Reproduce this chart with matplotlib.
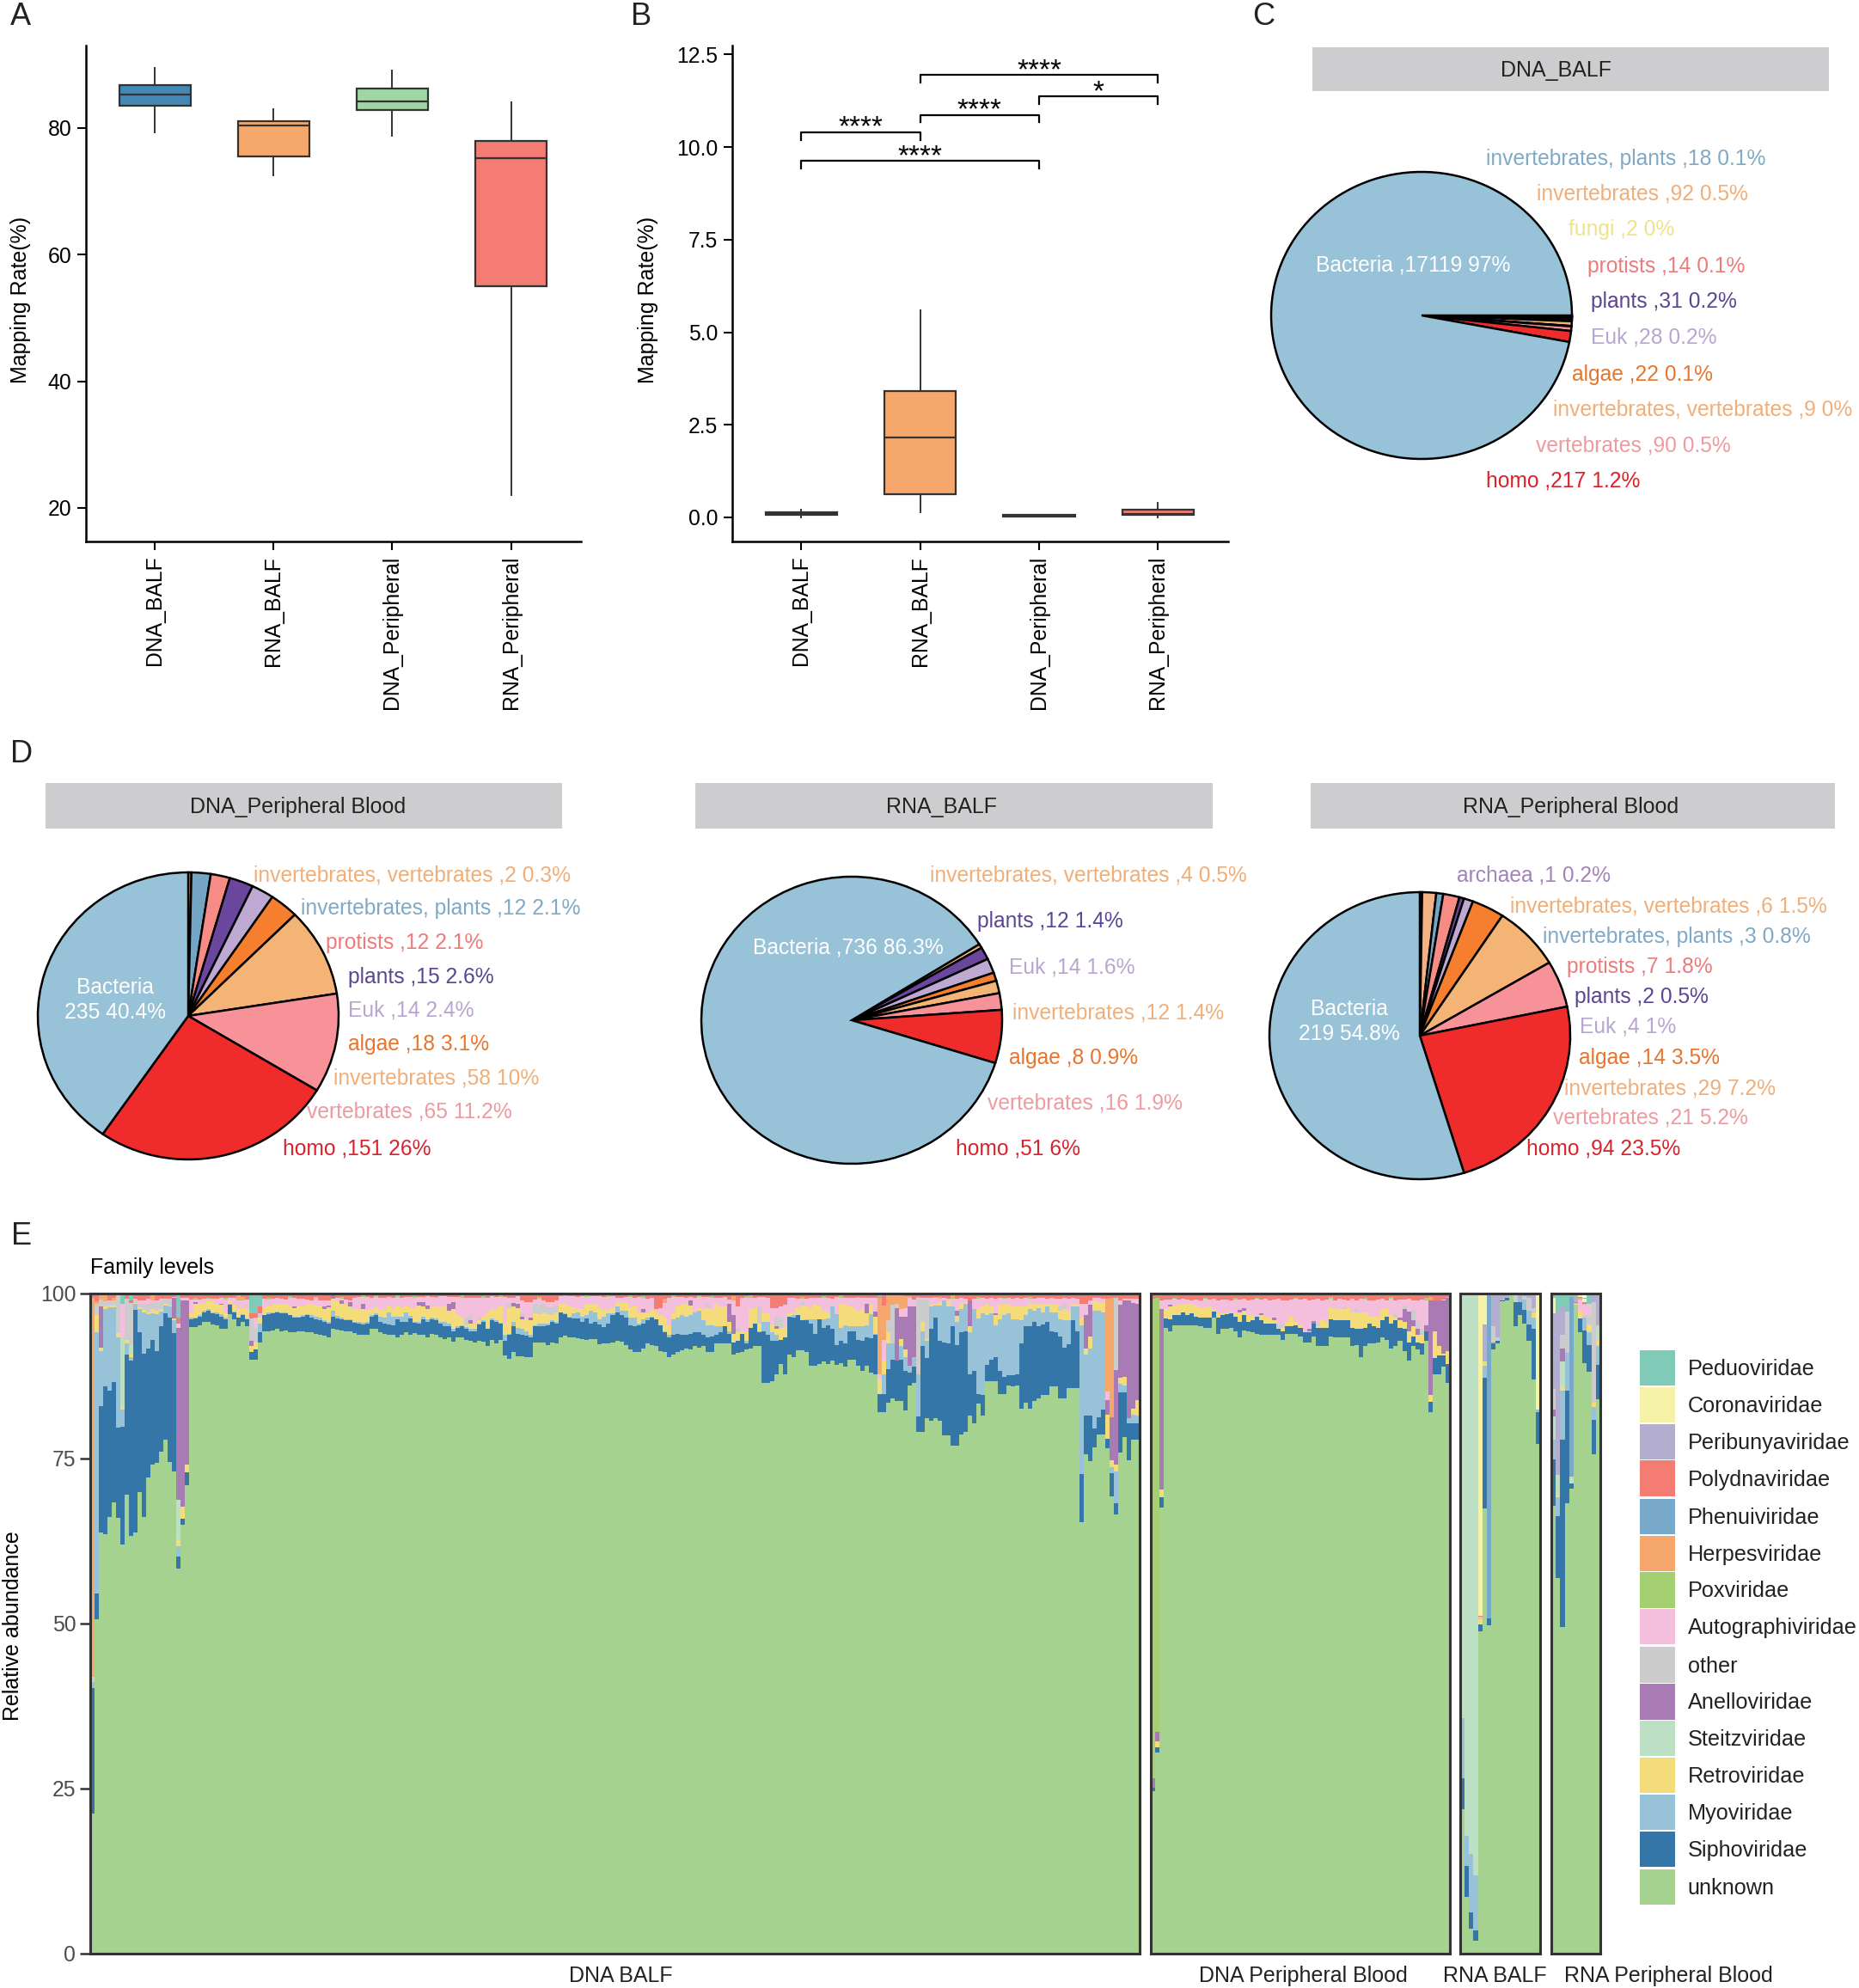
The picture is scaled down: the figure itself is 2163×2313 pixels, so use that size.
# virome overview figure, panels A-E
import matplotlib
matplotlib.use("Agg")
import matplotlib.pyplot as plt
import numpy as np

plt.rcParams['font.family'] = ['Liberation Sans', 'DejaVu Sans']

W, H = 2163, 2313
OV = 2163 / 1465.0  # label positions below were read on a 1465 wide view

# ---- panels A, B
sample_names = ['DNA_BALF', 'RNA_BALF', 'DNA_Peripheral', 'RNA_Peripheral']
box_colors = ['#4488B6', '#F5A76C', '#A0D6A5', '#F47C73']
a_whislo = [79.3, 72.5, 78.7, 22.0]
a_q1 = [83.5, 75.5, 82.8, 55.0]
a_med = [85.3, 80.4, 84.2, 75.2]
a_q3 = [86.7, 81.0, 86.2, 78.0]
a_whishi = [89.5, 83.0, 89.0, 84.0]
b_whislo = [0.0, 0.15, 0.02, 0.0]
b_q1 = [0.06, 0.62, 0.03, 0.07]
b_med = [0.10, 2.15, 0.05, 0.10]
b_q3 = [0.13, 3.40, 0.07, 0.20]
b_whishi = [0.20, 5.60, 0.08, 0.40]
# (first group, second group, height, stars)
b_brackets = [(0, 1, 10.39, '****'), (0, 2, 9.62, '****'), (1, 2, 10.87, '****'),
              (1, 3, 11.94, '****'), (2, 3, 11.36, '*')]

# ---- pies
pie_colors = {'Bacteria': '#97C2D8', 'homo': '#EF2B2B', 'vertebrates': '#F69298',
              'invertebrates, vertebrates': '#F4B183', 'invertebrates': '#F4B476',
              'algae': '#F57F2E', 'Euk': '#BEA9D2', 'plants': '#6A479C', 'protists': '#F68C85',
              'fungi': '#F5E88A', 'invertebrates, plants': '#74A5C4', 'archaea': '#A77DB8'}
text_colors = {'Bacteria': 'white', 'homo': '#D7232B', 'vertebrates': '#EE9AA0',
               'invertebrates, vertebrates': '#F0AE78', 'invertebrates': '#F0AE78',
               'algae': '#E6752E', 'Euk': '#B7A6CF', 'plants': '#5B4594', 'protists': '#EC7B7B',
               'fungi': '#EFE28A', 'invertebrates, plants': '#7FA9C4', 'archaea': '#A284B8'}

c_names = ['invertebrates, plants', 'fungi', 'protists', 'plants', 'Euk', 'algae', 'invertebrates',
           'invertebrates, vertebrates', 'vertebrates', 'homo', 'Bacteria']
c_counts = [18, 2, 14, 31, 28, 22, 92, 9, 90, 217, 17119]
c_pct = ['0.1%', '0%', '0.1%', '0.2%', '0.2%', '0.1%', '0.5%', '0%', '0.5%', '1.2%', '97%']
d1_names = ['invertebrates, vertebrates', 'invertebrates, plants', 'protists', 'plants', 'Euk', 'algae',
            'invertebrates', 'vertebrates', 'homo', 'Bacteria']
d1_counts = [2, 12, 12, 15, 14, 18, 58, 65, 151, 235]
d1_pct = ['0.3%', '2.1%', '2.1%', '2.6%', '2.4%', '3.1%', '10%', '11.2%', '26%', '40.4%']
d2_names = ['invertebrates, vertebrates', 'plants', 'Euk', 'algae', 'invertebrates', 'vertebrates', 'homo', 'Bacteria']
d2_counts = [4, 12, 14, 8, 12, 16, 51, 736]
d2_pct = ['0.5%', '1.4%', '1.6%', '0.9%', '1.4%', '1.9%', '6%', '86.3%']
d3_names = ['archaea', 'invertebrates, vertebrates', 'invertebrates, plants', 'protists', 'plants', 'Euk', 'algae',
            'invertebrates', 'vertebrates', 'homo', 'Bacteria']
d3_counts = [1, 6, 3, 7, 2, 4, 14, 29, 21, 94, 219]
d3_pct = ['0.2%', '1.5%', '0.8%', '1.8%', '0.5%', '1%', '3.5%', '7.2%', '5.2%', '23.5%', '54.8%']

# ---- panel E, cumulative tops per sample (percent)
bal_unknown_top = [
    21.2,50.7,63.8,63.6,66.2,68.4,66.0,62.0,69.5,63.3,63.8,69.9,66.2,72.2,74.1,74.3,76.0,77.8,74.5,73.0,58.3,65.0,70.9,
    94.9,94.9,95.2,95.7,95.7,95.3,95.2,94.7,94.7,96.9, 96.1,95.0,95.7,95.0,90.0,90.0,92.6,94.3,94.3,94.4,
    94.6,94.3,94.4,94.1,94.1,94.3,94.3,94.1,94.1,93.9, 93.7,93.6,93.4,94.6,94.5,94.4,94.3,94.3,
    94.0,93.8,93.7,93.8,94.7,94.7,94.1,93.9,93.7,93.7,93.4,93.8,94.1,93.7,94.0,93.7,93.7,93.4,93.9,93.8,
    93.3,93.1,93.3,92.7,93.3,93.3,93.0,92.8,92.6,92.8,92.7,92.0,93.0,92.4,93.0,90.6,90.1,91.1,90.5,90.5,
    90.3,90.3,92.6,92.6,92.6,92.2,92.6,92.4,93.4,93.6,93.4,93.3,93.2,93.1,93.0,93.1,93.1,92.3,92.4,92.5,92.6,
    92.8,92.7,92.2,91.5,91.2,91.2,91.7,92.4,92.2,92.0,91.3,91.1,90.3,90.8,91.1,91.4,91.7,91.5,92.0,91.8,
    92.0,91.2,91.1,92.4,92.4,92.4,92.4,90.7,91.0,91.1,91.5,91.7,92.0,92.0,86.5,86.5,86.7,87.8,89.3,87.8,
    90.7,90.4,91.4,91.4,91.1,89.0,89.0,89.3,89.7,89.3,89.8,89.2,89.5,88.9,90.0,90.0,89.1,88.3,89.1,88.0,87.8,
    82.0,82.0,83.5,84.1,83.7,83.7,82.3,86.1,86.5,79.0,79.0,81.1,80.7,81.1,80.7,78.5,78.5,76.9,77.0,78.7,
    79.1,81.5,80.4,83.3,81.5,86.7,86.7,86.7,84.8,84.8,86.1,85.9,86.1,82.6,83.5,82.6,83.7,84.1,84.6,84.6,
    85.9,85.9,84.1,84.1,85.7,85.7,85.7,65.4,75.7,74.6,76.7,78.7,78.7,76.5,69.3,66.6,75.9,78.3,74.8,77.8,77.8]
bal_sipho_top = [
    40.2,54.6,83.0,86.0,85.3,86.6,79.7,79.8,90.8,89.9,97.5,94.1,90.9,91.7,93.0,91.3,95.0,97.0,96.4,94.0,60.1,65.9,72.9,
    96.1,96.2,96.5,97.2,97.4,97.0,96.9,96.5,96.1,98.3, 97.2,96.3,96.7,96.1,91.1,91.5,94.1,96.7,96.9,97.0,
    97.2,97.0,97.0,96.7,96.3,96.4,96.5,96.7,96.3,96.1, 95.9,95.7,95.4,96.5,96.2,96.1,95.9,95.9,
    95.6,95.4,95.3,95.4,96.5,96.7,95.7,95.4,95.3,95.2,96.1,95.7,95.7,96.2,95.6,95.4,96.1,95.7,96.1,96.0,
    95.4,95.1,95.1,94.3,94.8,95.0,94.7,94.3,94.3,95.3,95.7,94.6,96.0,95.7,95.4,92.9,93.7,95.0,93.9,93.7,
    93.6,93.4,95.0,95.1,95.1,95.2,95.7,95.4,97.2,96.9,96.3,96.2,96.2,95.7,96.2,95.4,95.7,95.3,94.9,95.4,96.7,
    97.2,96.7,96.3,95.2,95.0,95.2,95.4,95.9,96.3,96.1,95.2,94.1,93.3,93.7,93.9,93.7,93.7,93.9,94.1,94.1,
    93.8,93.3,93.5,93.7,94.1,95.0,93.9,92.6,92.8,93.9,92.4,94.8,95.4,94.1,94.3,93.7,92.8,92.9,93.0,93.3,
    96.5,96.3,96.7,96.0,96.0,95.4,93.9,96.1,94.8,95.2,94.7,92.2,92.8,92.4,94.3,94.3,93.0,92.9,93.3,93.2,93.7,
    84.8,84.8,88.5,90.0,89.8,90.0,88.3,88.0,88.9,81.4,92.0,90.2,94.6,96.4,92.8,92.6,92.5,95.1,92.2,94.1,
    94.3,87.8,88.3,84.8,84.6,89.2,90.0,90.4,88.3,87.4,87.6,87.6,87.8,92.4,95.1,95.0,95.7,95.0,95.3,95.7,
    94.3,94.1,93.5,91.8,92.3,95.9,94.3,72.6,81.5,81.5,79.6,81.3,82.4,78.0,72.8,68.2,85.0,85.0,80.4,80.4,80.4]
bal_myo_top = [
    41.2,94.1,91.3,97.6,97.9,97.9,93.4,82.4,92.4,90.4,98.4,97.6,97.2,96.9,97.0,96.9,97.3,98.2,98.0,95.9,61.7,65.9,72.9,
    96.3,96.4,96.7,97.4,97.6,97.2,97.1,96.9,96.3,98.4, 97.3,96.4,96.9,96.2,91.1,91.5,95.4,96.8,97.1,97.2,
    97.3,97.2,97.2,96.8,96.5,96.5,96.7,96.9,96.7,96.5, 96.3,95.9,95.7,97.4,96.6,96.3,96.1,96.1,
    95.7,95.7,95.6,95.7,96.7,97.0,96.5,96.3,97.2,96.5,96.5,96.5,97.2,96.6,95.7,95.7,96.5,96.1,96.3,96.2,
    95.7,95.7,95.4,94.6,95.0,95.2,94.9,94.6,94.6,95.4,95.9,94.6,96.2,95.9,95.6,93.7,93.9,95.7,94.8,94.6,
    94.3,93.7,95.2,95.4,95.4,95.4,95.9,95.7,97.2,97.0,96.5,97.0,97.2,96.5,96.7,97.4,97.2,96.1,96.5,97.0,97.0,
    98.0,97.4,97.4,96.3,96.3,95.4,96.1,96.3,96.5,96.1,95.2,94.3,93.7,96.1,96.3,96.7,96.5,96.7,97.2,97.4,
    95.9,95.2,95.2,95.0,95.0,95.0,94.3,92.6,92.8,93.9,92.8,94.8,95.4,94.3,95.7,95.7,94.1,93.7,93.0,93.3,
    96.5,96.7,96.7,96.0,96.1,96.1,96.1,96.1,96.1,96.2,98.0,96.9,94.8,95.2,95.0,95.0,95.0,95.0,95.2,96.9,93.9,
    84.8,87.8,92.4,92.4,89.8,92.0,90.4,89.1,90.4,87.8,94.3,92.8,98.0,98.2,98.2,98.9,98.0,98.0,95.7,97.6,
    98.5,94.1,97.6,96.2,97.0,96.7,97.0,95.2,96.1,96.7,97.0,96.1,96.1,95.9,96.7,97.6,97.4,97.8,97.2,98.0,
    97.2,97.2,96.1,95.9,95.9,98.0,98.0,95.2,90.7,91.7,97.4,97.4,97.2,78.0,73.7,73.0,86.3,86.1,81.1,81.7,81.5]
bal_retro_top = [
    41.2,96.7,91.8,98.0,98.2,98.2,94.0,82.7,93.0,90.8,98.6,97.9,97.5,97.2,97.6,97.4,97.7,98.4,98.2,96.2,62.8,67.7,74.1,
    97.2,98.5,98.5,98.6,98.8,98.8,98.5,98.3,97.2,98.9, 98.3,97.6,97.8,97.6,92.0,92.6,96.3,97.8,98.0,98.3,
    98.5,98.5,98.5,98.2,97.8,98.0,98.0,98.5,98.5,98.2, 98.2,97.7,97.9,99.2,98.8,98.5,98.3,97.9,
    97.7,97.7,97.6,97.4,97.7,97.9,97.6,97.5,98.0,97.7,98.0,97.8,98.0,97.9,97.8,98.2,98.0,97.6,97.9,98.0,
    97.9,98.0,97.4,97.6,96.7,96.3,95.2,95.4,95.4,95.9,96.5,97.2,97.6,97.7,98.0,95.4,97.8,98.0,97.8,96.1,
    96.1,95.9,97.0,96.9,97.2,96.9,96.7,97.2,98.5,98.5,98.2,97.9,97.7,97.6,98.3,98.5,98.5,97.8,97.5,97.4,97.8,
    98.7,98.6,98.7,97.9,98.0,97.0,97.2,97.0,97.6,97.4,96.7,96.3,95.2,97.2,98.0,98.3,98.3,98.2,97.2,97.8,
    97.6,97.8,97.7,98.3,97.9,98.0,95.7,93.9,94.1,94.3,94.1,97.6,97.8,95.4,97.0,97.0,95.2,94.6,94.8,95.0,
    97.2,97.1,97.8,98.2,98.0,97.8,98.3,98.0,97.4,97.2,98.0,96.0,98.3,98.3,98.0,97.8,97.4,97.6,97.0,98.3,96.5,
    87.0,89.8,94.1,92.4,89.8,93.1,91.5,89.1,90.4,87.8,95.7,93.1,98.3,98.5,98.7,98.9,98.9,98.0,96.6,98.5,
    98.6,95.0,97.6,97.6,98.0,98.3,98.0,96.7,98.3,98.5,98.5,98.0,98.0,98.0,98.0,98.5,98.5,98.5,98.5,98.5,
    98.3,98.3,97.4,97.6,97.4,98.5,98.5,96.3,91.7,93.5,98.9,98.7,98.7,81.7,74.8,74.1,87.2,87.4,81.1,82.6,83.9]
bal_auto_top = [
    41.9,98.5,98.8,98.8,99.0,99.0,99.0,98.5,99.2,98.0,99.2,99.0,99.0,99.2,99.0,99.0,99.2,99.2,99.2,99.5,95.5,99.4,99.4,
    99.1,99.1,99.1,99.2,99.2,99.2,99.2,99.3,99.1,99.4, 99.3,98.9,98.9,99.1,95.9,96.3,97.0,99.2,99.1,99.2,
    99.3,99.2,99.1,99.3,99.4,99.2,99.2,99.1,99.0,99.3, 98.9,99.0,99.0,99.4,99.3,99.2,99.1,99.0,
    99.3,99.5,99.5,99.5,99.3,99.5,99.4,99.3,99.5,99.4,99.5,99.3,99.5,99.5,99.3,99.5,99.5,99.6,99.5,99.3,
    99.6,99.6,99.5,99.5,99.5,99.4,99.4,99.4,99.4,99.3,99.3,99.3,99.6,99.5,99.5,99.5,99.3,99.3,99.6,98.9,
    98.7,98.7,99.1,99.2,99.0,98.7,98.7,98.9,99.6,99.6,99.6,99.6,99.5,99.6,99.5,99.6,99.6,99.6,99.5,99.5,99.6,
    99.4,99.4,99.5,99.5,99.4,99.5,99.3,99.2,99.4,97.7,97.8,98.6,99.3,99.5,99.5,99.5,99.4,99.5,99.4,99.5,
    99.5,99.5,99.4,99.3,99.4,99.5,99.1,99.0,98.0,99.3,99.4,99.4,99.4,99.5,99.5,99.3,97.8,97.8,98.1,98.3,
    99.4,99.3,99.2,99.2,99.2,99.3,99.3,99.4,99.3,99.3,99.2,99.5,99.4,99.4,99.3,99.3,99.3,99.3,99.4,99.3,99.3,
    87.8,93.0,95.9,98.3,98.4,97.6,97.8,99.3,99.1,99.3,99.4,99.4,99.3,99.3,99.2,99.3,99.2,99.2,99.2,99.3,
    99.2,99.0,99.2,99.2,99.3,99.2,99.3,99.2,99.3,99.2,99.3,99.2,99.3,99.2,99.3,99.2,99.2,99.3,99.3,99.2,
    99.3,99.2,99.2,99.3,99.2,99.3,99.2,98.5,98.5,99.0,99.3,99.3,99.2,85.2,81.3,99.4,99.0,99.2,99.2,99.2,99.2]
bal_steitz = {7: 10.7, 9: 1.3, 20: 6.0, 60: 0.2}
bal_anello = {2: 6.3, 19: 3.2, 20: 26.0, 21: 31.3, 22: 24.9, 24: 0.2, 30: 0.2, 37: 0.9, 47: 0.3, 54: 0.3, 55: 0.3, 56: 0.6,
              58: 0.5, 60: 0.6, 63: 0.8, 76: 0.5, 77: 0.7, 78: 0.6, 83: 1.1, 84: 1.1, 88: 0.6, 98: 0.6, 99: 0.6, 100: 0.4,
              102: 0.4, 128: 0.4, 139: 0.7, 148: 2.8, 149: 2.8, 159: 0.5, 180: 1.5, 182: 0.8, 187: 8.0, 188: 3.4, 189: 5.0,
              190: 8.9, 191: 7.6, 201: 0.8, 204: 3.9, 210: 0.3, 231: 5.0, 232: 4.8, 236: 2.2, 237: 6.5, 238: 14.3,
              239: 11.1, 240: 11.5, 241: 17.8, 242: 16.0, 243: 14.6}
bal_other = {0: 0.5, 1: 1.8, 2: 1.0, 3: 0.7, 4: 0.7, 5: 0.7, 6: 5.7, 8: 6.1, 9: 6.5, 10: 0.3, 11: 0.5, 12: 1.0, 13: 1.2, 14: 1.0,
             15: 1.2, 16: 1.1, 17: 0.7, 18: 0.9, 37: 3.3, 38: 2.1, 39: 0.6, 87: 1.0, 88: 0.8, 90: 0.5, 97: 0.7, 100: 0.5,
             103: 1.5, 104: 1.4, 105: 1.3, 106: 1.0, 107: 1.2, 108: 1.0, 143: 0.6, 150: 0.7, 155: 2.6, 159: 1.5, 160: 1.4,
             165: 0.5, 185: 1.7, 186: 5.9, 187: 0.6, 192: 11.3, 193: 3.4, 194: 6.0, 225: 0.6, 226: 0.8, 238: 11.0}
bal_pox = {24: 0.3, 27: 0.2, 31: 0.3, 35: 0.3, 41: 0.2, 46: 0.3, 52: 0.2, 58: 0.3, 63: 0.2, 66: 0.3, 71: 0.3, 75: 0.3, 80: 0.2,
           86: 0.3, 91: 0.3, 95: 0.3, 104: 0.3, 110: 0.2, 115: 0.3, 120: 0.2, 125: 0.2, 128: 0.3, 135: 0.2, 141: 0.3,
           144: 0.2, 152: 0.2, 165: 0.3, 170: 0.3, 174: 0.3, 178: 0.2, 196: 0.2, 200: 0.2, 206: 0.3, 212: 0.2, 218: 0.3}
bal_herpes = {0: 57.5, 1: 0.3, 2: 0.8, 3: 1.0, 5: 0.3, 14: 0.7, 34: 0.8, 35: 0.3, 149: 0.6, 133: 0.6, 153: 0.4, 183: 11.5, 184: 5.2,
              185: 3.9, 186: 1.4, 187: 1.3, 188: 2.2, 189: 1.8, 190: 0.3, 192: 0.2, 197: 0.3, 200: 0.3, 236: 14.0, 237: 18.0}
bal_pedu = {7: 6.3, 9: 1.0, 20: 3.6, 37: 3.0, 38: 3.0, 39: 2.0, 183: 0.5, 233: 0.2}

per_unknown_top = [
    24.6,30.5,67.6,94.8,94.3,95.2,95.2,95.2,95.2,95.2,
    95.2,95.0,94.8,94.8,96.3,93.9,94.6,94.6,94.8,94.3,
    93.4,94.4,94.3,94.1,93.9,93.7,93.7,93.7,93.7,93.7,
    93.0,93.9,93.9,93.9,93.5,92.6,92.6,93.5,92.0,92.0,
    92.0,93.5,93.3,93.3,93.3,93.3,92.0,92.2,90.4,92.0,
    92.4,92.4,92.6,93.3,93.0,91.7,92.0,92.8,91.3,89.8,
    92.0,91.5,90.7,92.8,82.0,87.8,87.8,88.9,86.5]
per_sipho_top = [
    25.1,31.3,69.1,96.2,96.1,96.7,96.7,97.2,96.7,97.0,
    96.5,96.3,96.3,96.3,97.3,96.3,96.7,96.9,97.0,96.5,
    95.7,96.7,95.7,95.9,96.5,96.0,95.4,95.4,95.4,94.6,
    94.3,95.0,95.0,95.2,94.8,94.1,94.1,95.4,94.8,94.8,
    94.8,96.1,95.9,95.9,95.9,95.9,94.8,94.6,94.6,94.8,
    95.4,95.0,94.8,95.9,96.5,95.4,95.9,94.8,94.6,92.6,
    93.5,92.6,92.4,94.3,83.6,90.2,90.6,90.6,89.3]
per_retro_top = [
    25.1,32.1,70.3,97.7,98.0,98.2,98.3,98.3,98.5,98.5,
    98.2,97.8,97.9,98.0,97.7,97.0,97.2,97.2,97.0,97.2,
    97.2,97.4,96.7,96.7,96.5,96.7,96.5,96.3,95.9,94.8,
    94.8,95.7,96.5,95.7,95.2,94.3,94.3,95.4,95.0,96.1,
    95.7,97.8,97.8,97.6,97.6,97.8,97.2,97.2,97.2,97.2,
    96.5,96.5,96.5,97.6,97.8,96.7,96.3,95.9,95.7,94.3,
    95.0,93.7,93.7,94.3,84.6,94.3,92.0,90.9,91.3]
per_auto_top = [
    26.6,33.6,98.9,99.1,99.1,99.2,99.1,99.2,99.1,99.0,
    99.1,99.0,99.2,99.1,99.2,99.0,99.1,99.1,99.0,99.1,
    99.1,99.2,99.0,99.1,99.2,99.1,99.2,99.0,99.1,99.2,
    99.0,98.9,99.1,99.2,99.1,99.2,99.0,99.1,99.2,99.0,
    99.1,99.2,99.0,99.2,99.1,99.0,99.2,99.0,99.2,99.1,
    99.0,98.9,99.1,99.2,99.0,99.2,99.0,99.1,99.1,99.2,
    99.0,99.0,99.1,99.0,98.5,98.9,99.0,99.1,99.2]
per_anello = {0: 1.5, 1: 1.5, 2: 27.3, 4: 0.3, 20: 0.3, 21: 0.4, 25: 0.3, 28: 0.4, 36: 0.3, 37: 0.4, 57: 0.5, 58: 2.0, 59: 3.0,
              60: 1.0, 61: 0.9, 63: 0.9, 64: 14.3, 65: 4.6, 66: 7.0, 67: 8.0, 68: 8.0}
per_other = {29: 0.4, 30: 0.5, 38: 0.5, 44: 0.3, 47: 0.5, 56: 0.6, 58: 0.5, 60: 1.5, 61: 1.2, 62: 1.0}
per_pox = {0: 72.6, 1: 65.7, 5: 0.2, 12: 0.2, 19: 0.2, 24: 0.2, 33: 0.2, 41: 0.3, 49: 0.2, 55: 0.3, 63: 0.3}
per_herpes = {64: 0.6, 68: 0.2}

# stack order, bottom to top
family_order = ['unknown', 'Siphoviridae', 'Myoviridae', 'Retroviridae', 'Steitzviridae', 'Anelloviridae', 'other',
                'Autographiviridae', 'Poxviridae', 'Herpesviridae', 'Phenuiviridae', 'Polydnaviridae',
                'Peribunyaviridae', 'Coronaviridae', 'Peduoviridae']
family_colors = ['#A5D28F', '#3576A8', '#97C2D8', '#F5DC7A', '#BDE0C4', '#A97BB5', '#CCCCCC', '#F4BFDC', '#A5D071',
                 '#F5A76C', '#78A9CB', '#F47C73', '#B3AED0', '#F5F2A8', '#80CBB8']

rb_unknown = [21.9, 8.6, 3.8, 1.9, 48.8, 67.5, 49.7, 91.5, 92.4, 98.8, 99.0, 99.7, 95.0, 96.8, 95.5, 92.8, 87.0, 77.2]
rb_sipho = [4.6, 4.7, 2.4, 1.6, 1.1, 19.8, 1.1, 0.9, 0.5, 0.1, 0.3, 0.1, 3.7, 1.9, 2.0, 2.5, 7.7, 4.8]
rb_myo = [9.2, 4.6, 8.9, 8.4, 0, 1.7, 0, 0.3, 0, 0, 0, 0, 0, 0.5, 1.6, 2.1, 1.6, 0.4]
rb_retro = [0, 0, 0, 0, 0.7, 0.7, 0, 0.1, 0, 0, 0, 0, 0, 0, 0, 0, 0.7, 0]
rb_steitz = [64.3, 82.1, 84.9, 88.1, 0, 0, 0, 0, 0, 0, 0, 0, 0, 0, 0, 0, 0, 0]
rb_other = [0, 0, 0, 0, 0.5, 0, 0, 2.2, 0.5, 0, 0, 0, 1.1, 0, 0.5, 2.0, 0.8, 0]
rb_phenu = [0, 0, 0, 0, 0, 0, 49.2, 0, 0, 0, 0, 0, 0, 0, 0, 0, 0, 0]
rb_poly = [0, 0, 0, 0, 0.1, 0, 0, 0, 0, 0, 0, 0, 0, 0, 0, 0, 0, 0]
rb_peribunya = [0, 0, 0, 0, 0, 5.6, 0, 5.0, 6.6, 1.1, 0.7, 0.2, 0.2, 0.8, 0.4, 0.6, 2.2, 0]
rb_corona = [0, 0, 0, 0, 48.8, 4.7, 0, 0, 0, 0, 0, 0, 0, 0, 0, 0, 0, 17.6]

rp_unknown = [67.8, 56.9, 49.5, 68.2, 70.4, 98.3, 94.2, 89.5, 88.2, 75.6, 84.0]
rp_sipho = [7.1, 9.4, 28.3, 17.1, 0.8, 0, 2.0, 4.9, 4.0, 5.3, 5.2]
rp_myo = [2.9, 2.9, 7.5, 5.7, 0, 0, 0, 1.9, 2.0, 1.9, 2.8]
rp_retro = [0, 0.3, 0.7, 0, 0, 0.2, 1.2, 0, 1.1, 0.6, 1.0]
rp_steitz = [3.6, 3.0, 3.7, 0, 1.1, 0, 0, 0, 0, 0, 2.2]
rp_anello = [1.0, 0, 2.0, 0, 0, 0, 0, 0, 0, 0, 0]
rp_other = [3.1, 0, 2.0, 6.3, 0, 0, 0, 0.3, 1.5, 15.3, 0]
rp_auto = [0, 0, 0, 0, 0, 0, 1.7, 1.7, 1.7, 0, 0]
rp_herpes = [0, 0, 0, 0, 0, 0.1, 0.2, 0.2, 0, 0, 0]
rp_phenu = [0, 0, 0, 0, 27.2, 0, 0, 0, 0, 0, 0]
rp_poly = [0, 0, 0, 0, 0, 0.1, 0.2, 0.2, 0, 0, 0]
rp_peribunya = [11.5, 24.8, 4.3, 0, 0, 1.1, 0, 0, 0, 1.0, 4.8]
rp_corona = [2.3, 0, 0, 0, 0, 0, 0.2, 0.5, 0, 0, 0]
rp_pedu = [0.7, 2.7, 2.7, 2.7, 0.5, 0.2, 0.2, 0.2, 1.3, 0.2, 0]


def px_axes(fig, left, top, right, bottom):
    return fig.add_axes([left / W, 1 - bottom / H, (right - left) / W, (bottom - top) / H])


def tops_to_heights(unknown, sipho, myo, retro, auto, steitz={}, anello={}, other={}, pox={}, herpes={}, pedu={}):
    # the tops lists are cumulative, the sparse dicts hold thin layers by sample index
    n = len(unknown)
    sparse = lambda d: np.array([d.get(i, 0.0) for i in range(n)])
    u = np.array(unknown)
    s = np.maximum(np.array(sipho), u)
    m = np.maximum(np.array(myo), s)
    r = np.maximum(np.array(retro), m)
    st, an, ot, po, he, pe = sparse(steitz), sparse(anello), sparse(other), sparse(pox), sparse(herpes), sparse(pedu)
    base = r + st + an + ot
    au = np.clip(np.array(auto) - base, 0, None)
    poly = np.clip(100 - (base + au + po + he + pe), 0, None)
    zero = np.zeros(n)
    return {'unknown': u, 'Siphoviridae': s - u, 'Myoviridae': m - s, 'Retroviridae': r - m, 'Steitzviridae': st,
            'Anelloviridae': an, 'other': ot, 'Autographiviridae': au, 'Poxviridae': po, 'Herpesviridae': he,
            'Phenuiviridae': zero, 'Polydnaviridae': poly, 'Peribunyaviridae': zero, 'Coronaviridae': zero,
            'Peduoviridae': pe}


def draw_stack(ax, heights):
    n = len(heights['unknown'])
    x = np.arange(n) + 0.5
    bottom = np.zeros(n)
    for name, col in zip(family_order, family_colors):
        h = np.asarray(heights.get(name, np.zeros(n)), dtype=float)
        keep = h > 0
        ax.bar(x[keep], h[keep], width=1.0, bottom=bottom[keep], color=col, linewidth=0, antialiased=False)
        bottom += h
    ax.set_xlim(0, n)
    ax.set_ylim(0, 100)
    ax.set_xticks([])
    ax.set_yticks([])
    for sp in ax.spines.values():
        sp.set_linewidth(2.2)
        sp.set_color('#333333')


def draw_box(ax, whislo, q1, med, q3, whishi, ylim, yticks, yfmt):
    stats = [{'whislo': whislo[i], 'q1': q1[i], 'med': med[i], 'q3': q3[i], 'whishi': whishi[i]} for i in range(4)]
    parts = ax.bxp(stats, positions=range(4), widths=0.6, patch_artist=True, showcaps=False, showfliers=False,
                   manage_ticks=False, boxprops={'edgecolor': '#333333', 'linewidth': 1.6},
                   medianprops={'color': '#333333', 'linewidth': 1.6},
                   whiskerprops={'color': '#333333', 'linewidth': 1.4})
    for patch, col in zip(parts['boxes'], box_colors):
        patch.set_facecolor(col)
    ax.set_xlim(-0.58, 3.59)
    ax.set_ylim(*ylim)
    ax.set_yticks(yticks)
    ax.set_yticklabels([yfmt % v for v in yticks], fontsize=17.8)
    ax.set_xticks(range(4))
    ax.set_xticklabels(sample_names, rotation=90, fontsize=17.8)
    ax.tick_params(length=7, width=1.5, pad=5)
    for side in ['top', 'right']:
        ax.spines[side].set_visible(False)
    for side in ['left', 'bottom']:
        ax.spines[side].set_linewidth(1.8)


def draw_pie(fig, cx, cy, rx, ry, names, counts, start):
    ax = px_axes(fig, cx - rx * 1.02, cy - ry * 1.02, cx + rx * 1.02, cy + ry * 1.02)
    ax.pie(counts, colors=[pie_colors[n] for n in names], startangle=start, counterclock=False, radius=1,
           wedgeprops={'edgecolor': 'black', 'linewidth': 1.8})
    ax.set_aspect('auto')
    ax.set_xlim(-1.02, 1.02)
    ax.set_ylim(-1.02, 1.02)


fig = plt.figure(figsize=(W / 100, H / 100), dpi=100)

ax_a = px_axes(fig, 100, 53, 676, 630)
draw_box(ax_a, a_whislo, a_q1, a_med, a_q3, a_whishi, (14.7, 93), [20, 40, 60, 80], '%d')
ax_b = px_axes(fig, 852, 53, 1429, 630)
draw_box(ax_b, b_whislo, b_q1, b_med, b_q3, b_whishi, (-0.65, 12.74), [0, 2.5, 5, 7.5, 10, 12.5], '%.1f')
for g1, g2, y, stars in b_brackets:
    ax_b.plot([g1, g1, g2, g2], [y - 0.2, y, y, y - 0.2], color='black', lw=1.6, clip_on=False)
    ax_b.text((g1 + g2) / 2, y + 0.12, stars, ha='center', va='center', fontsize=24, color='black')

draw_pie(fig, 1654, 367, 175, 167, c_names, c_counts, 0)
draw_pie(fig, 219, 1182, 175, 167, d1_names, d1_counts, 90)
draw_pie(fig, 991, 1187, 175, 167, d2_names, d2_counts, 32)
draw_pie(fig, 1652, 1205, 175, 167, d3_names, d3_counts, 90)

# panel E groups
groups = [
    ((105, 1326), tops_to_heights(bal_unknown_top, bal_sipho_top, bal_myo_top, bal_retro_top, bal_auto_top,
                                  bal_steitz, bal_anello, bal_other, bal_pox, bal_herpes, bal_pedu)),
    ((1339, 1687), tops_to_heights(per_unknown_top, per_sipho_top, per_sipho_top, per_retro_top, per_auto_top,
                                   {}, per_anello, per_other, per_pox, per_herpes, {})),
    ((1699, 1792), {'unknown': rb_unknown, 'Siphoviridae': rb_sipho, 'Myoviridae': rb_myo, 'Retroviridae': rb_retro,
                    'Steitzviridae': rb_steitz, 'other': rb_other, 'Phenuiviridae': rb_phenu, 'Polydnaviridae': rb_poly,
                    'Peribunyaviridae': rb_peribunya, 'Coronaviridae': rb_corona}),
    ((1805, 1862), {'unknown': rp_unknown, 'Siphoviridae': rp_sipho, 'Myoviridae': rp_myo, 'Retroviridae': rp_retro,
                    'Steitzviridae': rp_steitz, 'Anelloviridae': rp_anello, 'other': rp_other,
                    'Autographiviridae': rp_auto, 'Herpesviridae': rp_herpes, 'Phenuiviridae': rp_phenu,
                    'Polydnaviridae': rp_poly, 'Peribunyaviridae': rp_peribunya, 'Coronaviridae': rp_corona,
                    'Peduoviridae': rp_pedu}),
]
for i, ((left, right), heights) in enumerate(groups):
    ax = px_axes(fig, left, 1505, right, 2273)
    draw_stack(ax, heights)
    if i == 0:
        ax.set_yticks([0, 25, 50, 75, 100])
        ax.set_yticklabels(['0', '25', '50', '75', '100'], fontsize=17.8, color='#4D4D4D')
        ax.tick_params(axis='y', length=9, width=1.8, color='#333333', pad=3)

# everything placed by position goes on one overlay, in the 1465 wide view
over = fig.add_axes([0, 0, 1, 1], zorder=10)
over.set_xlim(0, W / OV)
over.set_ylim(H / OV, 0)
over.axis('off')

for label, x, y in [('A', 16, 13), ('B', 505, 13), ('C', 996, 13), ('D', 17, 594), ('E', 17, 974)]:
    over.text(x, y, label, fontsize=26, ha='center', va='center', color='#222222')
for x in [16, 511]:
    over.text(x, 236, 'Mapping Rate(%)', fontsize=18, rotation=90, ha='center', va='center')
over.text(71, 999, 'Family levels', fontsize=18, ha='left', va='center')
over.text(10, 1281, 'Relative abundance', fontsize=18, rotation=90, ha='center', va='center')
for label, x in [('DNA BALF', 489), ('DNA Peripheral Blood', 1027), ('RNA BALF', 1178), ('RNA Peripheral Blood', 1315)]:
    over.text(x, 1557, label, fontsize=18, ha='center', va='center', color='#222222')

for title, x0, x1, y0, y1, xc in [('DNA_BALF', 1034, 1441, 37, 72, 1226), ('DNA_Peripheral Blood', 36, 443, 617, 653, 235),
                                  ('RNA_BALF', 548, 956, 617, 653, 742), ('RNA_Peripheral Blood', 1033, 1446, 617, 653, 1238)]:
    over.add_patch(plt.Rectangle((x0, y0), x1 - x0, y1 - y0, facecolor='#CDCDCF', edgecolor='none'))
    over.text(xc, (y0 + y1) / 2 + 1, title, fontsize=18, ha='center', va='center', color='#222222')

# pie labels: (index in the pie's lists, x, y) for the ones outside the wedges
c_label_pos = [(0, 1171, 125), (6, 1211, 153), (1, 1236, 181), (2, 1251, 210), (3, 1254, 238), (4, 1254, 266),
               (5, 1239, 295), (7, 1224, 323), (8, 1210, 351), (9, 1171, 379), (10, 1037, 209)]
d1_label_pos = [(0, 200, 690), (1, 237, 716), (2, 257, 743), (3, 274, 770), (4, 274, 796), (5, 274, 823),
                (6, 263, 850), (7, 242, 876), (8, 223, 905)]
d2_label_pos = [(0, 733, 690), (1, 770, 726), (2, 795, 762), (4, 798, 798), (3, 795, 834), (5, 778, 869),
                (6, 753, 905), (7, 593, 747)]
d3_label_pos = [(0, 1148, 690), (1, 1190, 714), (2, 1216, 738), (3, 1235, 762), (4, 1241, 786), (5, 1245, 809),
                (6, 1244, 834), (7, 1233, 858), (8, 1224, 881), (9, 1203, 905)]
for names, counts, pct, pos in [(c_names, c_counts, c_pct, c_label_pos), (d1_names, d1_counts, d1_pct, d1_label_pos),
                                (d2_names, d2_counts, d2_pct, d2_label_pos), (d3_names, d3_counts, d3_pct, d3_label_pos)]:
    for i, x, y in pos:
        over.text(x, y, '%s ,%d %s' % (names[i], counts[i], pct[i]), fontsize=17.7, ha='left', va='center',
                  color=text_colors[names[i]])
over.text(91, 788, 'Bacteria\n%d %s' % (d1_counts[-1], d1_pct[-1]), fontsize=17.7, color='white', ha='center', va='center',
          linespacing=1.25)
over.text(1063, 805, 'Bacteria\n%d %s' % (d3_counts[-1], d3_pct[-1]), fontsize=17.7, color='white', ha='center', va='center',
          linespacing=1.25)

# legend runs from the top of the stack down
legend_y = [1078, 1107, 1136, 1165, 1195, 1224, 1253, 1282, 1312, 1341, 1370, 1399, 1428, 1457, 1487]
for name, col, y in zip(family_order[::-1], family_colors[::-1], legend_y):
    over.add_patch(plt.Rectangle((1292, y - 14), 28, 28, facecolor=col, edgecolor='none'))
    over.text(1330, y + 1, name, fontsize=18.2, ha='left', va='center', color='#222222')

fig.savefig('out.png', dpi=100, facecolor='white')
